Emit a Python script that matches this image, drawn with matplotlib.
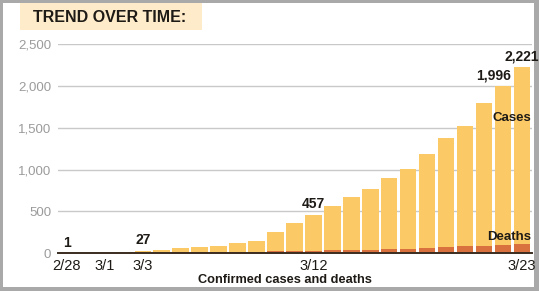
import matplotlib
matplotlib.use("Agg")
import matplotlib.pyplot as plt
import matplotlib.font_manager as fm
from matplotlib.patches import Rectangle

# data
dates = ["2/28", "2/29", "3/1", "3/2", "3/3", "3/4", "3/5", "3/6", "3/7", "3/8",
         "3/9", "3/10", "3/11", "3/12", "3/13", "3/14", "3/15", "3/16", "3/17",
         "3/18", "3/19", "3/20", "3/21", "3/22", "3/23"]
cases = [1, 2, 4, 12, 27, 38, 64, 72, 93, 122, 152, 260, 361, 457, 560, 673,
         769, 900, 1008, 1180, 1380, 1519, 1795, 1996, 2221]
deaths = [0, 0, 1, 6, 9, 10, 11, 13, 16, 19, 22, 24, 29, 31, 37, 40, 42, 48,
          54, 66, 74, 83, 94, 95, 110]
tick_dates = ["2/28", "3/1", "3/3", "3/12", "3/23"]
labelled = {"2/28": "1", "3/3": "27", "3/12": "457", "3/22": "1,996", "3/23": "2,221"}
yticks = [0, 500, 1000, 1500, 2000, 2500]

names = {f.name for f in fm.fontManager.ttflist}
narrow = "Liberation Sans Narrow" if "Liberation Sans Narrow" in names else "Liberation Sans"
plt.rcParams["font.family"] = [narrow, "DejaVu Sans"]

CASE_C = "#fbc965"
DEATH_C = "#d8713d"
DARK = "#1e1a16"

W, H = 539, 291
fig = plt.figure(figsize=(W / 100, H / 100), dpi=100, facecolor="#a9a9a9")

# white card with grey frame
fig.patches.append(Rectangle((3 / W, 4 / H), 531 / W, 284 / H, transform=fig.transFigure,
                             facecolor="white", edgecolor="none", zorder=-2))
# title box
fig.patches.append(Rectangle((20 / W, (H - 30) / H), 182 / W, 27 / H, transform=fig.transFigure,
                             facecolor="#fdebc9", edgecolor="none", zorder=-1))
fig.text(110 / W, (H - 17) / H, "TREND OVER TIME:", ha="center", va="center",
         fontsize=11.5, fontweight="bold", color=DARK)

ax = fig.add_axes([58 / W, (H - 253.4) / H, 474 / W, 209.7 / H], zorder=2)
ax.set_facecolor("none")
x = list(range(len(dates)))
ax.bar(x, cases, width=0.87, color=CASE_C, zorder=2)
ax.bar(x, deaths, width=0.87, color=DEATH_C, zorder=3)

ax.set_xlim(-0.47, 24.53)
ax.set_ylim(0, 2500)
ax.set_yticks(yticks)
ax.set_yticklabels([f"{v:,}" for v in yticks], fontsize=9.5, color="#9b9b9b")
ax.yaxis.grid(True, color="#c9c9c9", linewidth=1, zorder=1)
ax.set_axisbelow(True)
ax.tick_params(axis="y", length=0, pad=5)
ax.set_xticks([dates.index(d) for d in tick_dates])
ax.set_xticklabels(tick_dates, fontsize=10.5, color=DARK)
ax.tick_params(axis="x", length=0, pad=4)
for s in ["top", "right", "left"]:
    ax.spines[s].set_visible(False)
ax.spines["bottom"].set_color("#3b2c20")
ax.spines["bottom"].set_linewidth(1.4)
ax.spines["bottom"].set_zorder(4)

for d, txt in labelled.items():
    i = dates.index(d)
    xo = -0.5 if d == "3/22" else 0
    ax.text(i + xo, cases[i] + 45, txt, ha="center", va="bottom", fontsize=10,
            fontweight="bold", color=DARK, zorder=5, clip_on=False)

ax.text(23.45, 1620, "Cases", ha="center", va="center", fontsize=9.5,
        fontweight="bold", color=DARK, zorder=5)
ax.text(23.3, 200, "Deaths", ha="center", va="center", fontsize=9.5,
        fontweight="bold", color=DARK, zorder=5)

fig.text(285 / W, (H - 280) / H, "Confirmed cases and deaths", ha="center", va="center",
         fontsize=9.2, fontweight="bold", color=DARK)

fig.savefig("out.png", dpi=100, facecolor=fig.get_facecolor())
